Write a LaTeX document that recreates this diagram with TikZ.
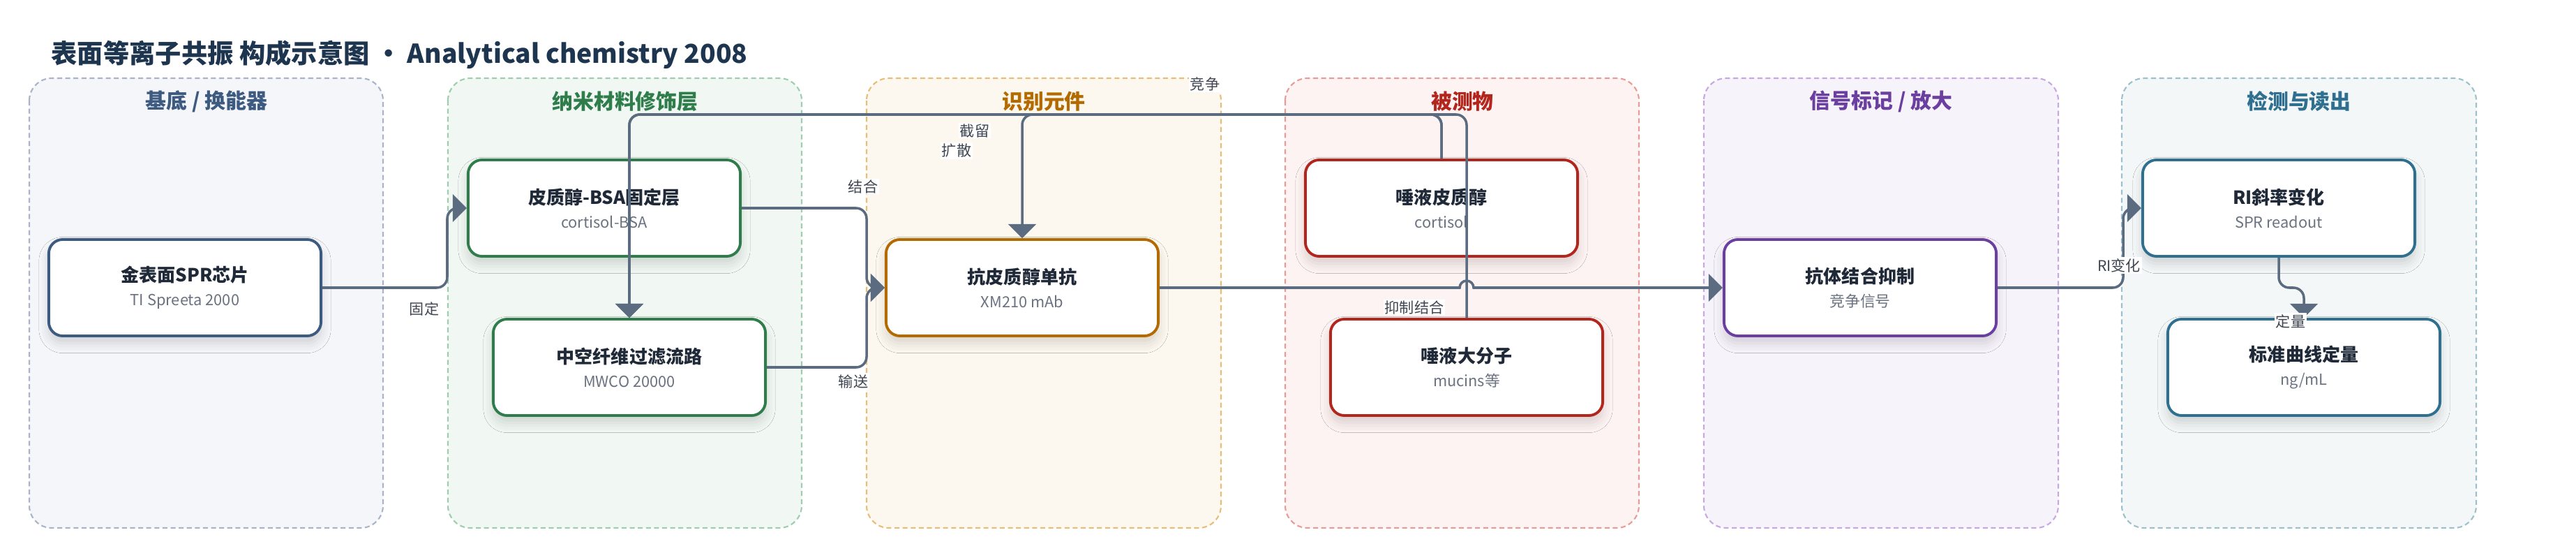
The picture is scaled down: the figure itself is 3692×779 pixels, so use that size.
\documentclass[tikz,border=0pt]{standalone}
\usepackage{fontspec}
\setmainfont{Noto Sans CJK SC}
\usetikzlibrary{arrows}
\usetikzlibrary{shadows.blur}

\definecolor{baseLine}{HTML}{A9B4C8}
\definecolor{baseFill}{HTML}{F5F6FA}
\definecolor{baseText}{HTML}{3D5A80}
\definecolor{nanoLine}{HTML}{9FCDB0}
\definecolor{nanoFill}{HTML}{F1F8F3}
\definecolor{nanoText}{HTML}{2E7D4A}
\definecolor{recoLine}{HTML}{E6BE78}
\definecolor{recoFill}{HTML}{FDF8EF}
\definecolor{recoText}{HTML}{B36B00}
\definecolor{anaLine}{HTML}{E89C97}
\definecolor{anaFill}{HTML}{FDF3F2}
\definecolor{anaText}{HTML}{B3261E}
\definecolor{sigLine}{HTML}{C7A8E0}
\definecolor{sigFill}{HTML}{F7F3FB}
\definecolor{sigText}{HTML}{6B3FA0}
\definecolor{detLine}{HTML}{9DC0CD}
\definecolor{detFill}{HTML}{F3F7F8}
\definecolor{detText}{HTML}{2F6F8F}
\definecolor{linkGray}{HTML}{5B6B80}
\definecolor{titleInk}{HTML}{1E3550}
\definecolor{mainInk}{HTML}{1F2937}
\definecolor{subInk}{HTML}{6B7280}
\definecolor{tagInk}{HTML}{3F4652}

\newcommand{\boxtext}[2]{{\bfseries\fontsize{7.4}{9.7}\selectfont #1}\\{\fontsize{6.2}{9.7}\selectfont\color{subInk}#2}}

\tikzset{
  lane/.style 2 args={draw=#1, fill=#2, line width=0.6pt, dash pattern=on 2pt off 1.3pt, rounded corners=0.32cm},
  head/.style={font=\bfseries\fontsize{8.5}{10}\selectfont, text=#1},
  box/.style={draw=#1, fill=white, line width=1.1pt, rounded corners=0.2cm, minimum width=3.9cm, minimum height=1.38cm, align=center, text=mainInk, font=\fontsize{6.2}{9.7}\selectfont, blur shadow={shadow xshift=0pt, shadow yshift=-3pt, shadow blur radius=4pt, shadow opacity=15}},
  link/.style={draw=linkGray, line width=1pt, rounded corners=0.15cm},
  tag/.style={fill=white, text=tagInk, font=\fontsize{6}{7}\selectfont, inner sep=0.5pt},
}

\begin{document}
\begin{tikzpicture}[x=0.01cm,y=-0.01cm]
\fill[white] (0,0) rectangle (3692,779);
\useasboundingbox (0,0) rectangle (3692,779);
\node[anchor=west,inner sep=0,text=titleInk,font=\bfseries\fontsize{10.6}{13}\selectfont] (title) at (73,78) {表面等离子共振 构成示意图 · Analytical chemistry 2008};

\draw[lane={baseLine}{baseFill}] (42,112) rectangle (549,756);
\draw[lane={nanoLine}{nanoFill}] (642,112) rectangle (1149,756);
\draw[lane={recoLine}{recoFill}] (1242,112) rectangle (1750,756);
\draw[lane={anaLine}{anaFill}] (1842,112) rectangle (2349,756);
\draw[lane={sigLine}{sigFill}] (2442,112) rectangle (2950,756);
\draw[lane={detLine}{detFill}] (3041,112) rectangle (3549,756);
\node[head=baseText] (hBase) at (296,145) {基底 / 换能器};
\node[head=nanoText] (hNano) at (896,145) {纳米材料修饰层};
\node[head=recoText] (hReco) at (1496,145) {识别元件};
\node[head=anaText] (hAna) at (2096,145) {被测物};
\node[head=sigText] (hSig) at (2696,145) {信号标记 / 放大};
\node[head=detText] (hDet) at (3295,145) {检测与读出};

\node[box=baseText] (chip) at (265,412) {\boxtext{金表面SPR芯片}{TI Spreeta 2000}};
\node[box=nanoText] (bsa) at (866,298) {\boxtext{皮质醇-BSA固定层}{cortisol-BSA}};
\node[box=nanoText] (fiber) at (902,526) {\boxtext{中空纤维过滤流路}{MWCO 20000}};
\node[box=recoText] (mab) at (1465,412) {\boxtext{抗皮质醇单抗}{XM210 mAb}};
\node[box=anaText] (cort) at (2066,298) {\boxtext{唾液皮质醇}{cortisol}};
\node[box=anaText] (mucin) at (2102,526) {\boxtext{唾液大分子}{mucins等}};
\node[box=sigText] (inhib) at (2666,412) {\boxtext{抗体结合抑制}{竞争信号}};
\node[box=detText] (ri) at (3266,298) {\boxtext{RI斜率变化}{SPR readout}};
\node[box=detText] (curve) at (3302,526) {\boxtext{标准曲线定量}{ng/mL}};

\coordinate (j1) at (641,412);
\coordinate (j2) at (1242,412);
\coordinate (j3) at (3043,412);
\coordinate (top) at (0,164);

\draw[link,-triangle 90] (chip.east) -- (j1) |- (bsa.west);
\draw[link,-triangle 90] (bsa.east) -- (bsa.east -| j2) |- (mab.west);
\draw[link,-triangle 90] (fiber.east) -- (fiber.east -| j2) |- (mab.west);
\draw[link,sharp corners,-triangle 90] (mab.east) -- ([xshift=-0.1cm]mab.east -| mucin.north) arc[start angle=180,end angle=0,radius=0.1cm] -- (inhib.west);
\draw[link,-triangle 90] (cort.north) -- (cort.north |- top) -| (mab.north);
\draw[link,-triangle 90] (cort.north) -- (cort.north |- top) -| (fiber.north);
\draw[link,-triangle 90] (mucin.north) -- (mucin.north |- top) -| (fiber.north);
\draw[link,-triangle 90] (inhib.east) -- (j3) |- (ri.west);
\draw[link,-triangle 90] (ri.south) -- (ri.south |- j3) -| (curve.north);

\node[tag] (tFix) at (608,442) {固定};
\node[tag] (tBind) at (1237,267) {结合};
\node[tag] (tFeed) at (1223,546) {输送};
\node[tag] (tBlock) at (2027,440) {抑制结合};
\node[tag] (tComp) at (1727,120) {竞争};
\node[tag] (tDiff) at (1371,216) {扩散};
\node[tag] (tKeep) at (1397,187) {截留};
\node[tag] (tRI) at (3037,380) {RI变化};
\node[tag] (tQuant) at (3283,460) {定量};
\end{tikzpicture}
\end{document}
